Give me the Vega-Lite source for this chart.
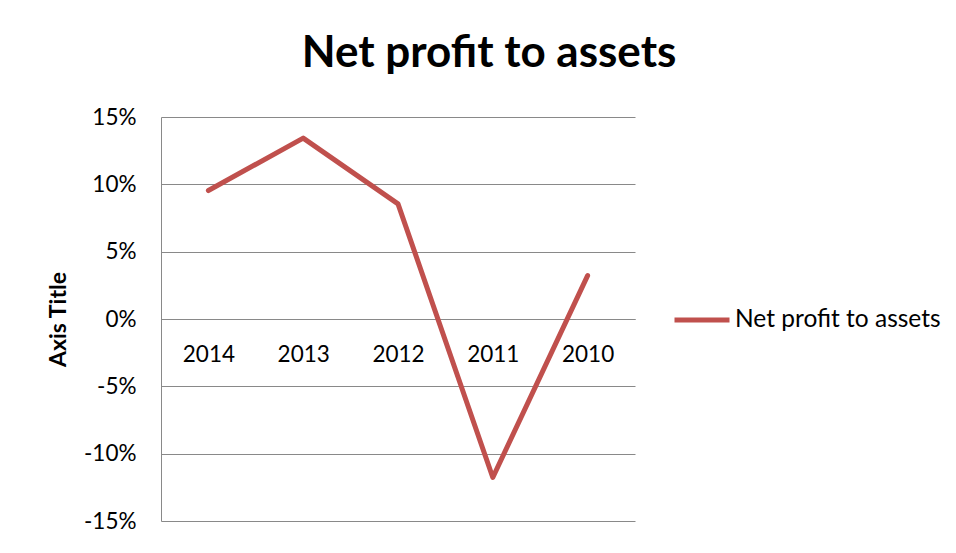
{
  "$schema": "https://vega.github.io/schema/vega-lite/v6.json",
  "autosize": {"type": "none"},
  "padding": {"left": 161, "top": 117, "right": 321, "bottom": 32},
  "width": 474,
  "height": 404,
  "background": "white",
  "title": {
    "text": "Net profit to assets",
    "font": "Lato",
    "fontSize": 44,
    "fontWeight": "bold",
    "color": "#000000",
    "anchor": "middle",
    "frame": "group",
    "dx": 91,
    "dy": 6,
    "baseline": "alphabetic",
    "offset": 1
  },
  "data": {
    "values": [
      {"year": "2014", "value": 0.0954, "series": "Net profit to assets"},
      {"year": "2013", "value": 0.1343, "series": "Net profit to assets"},
      {"year": "2012", "value": 0.0855, "series": "Net profit to assets"},
      {"year": "2011", "value": -0.1177, "series": "Net profit to assets"},
      {"year": "2010", "value": 0.0322, "series": "Net profit to assets"}
    ]
  },
  "mark": {"type": "line", "strokeWidth": 5, "strokeCap": "round", "strokeJoin": "round"},
  "encoding": {
    "x": {
      "field": "year",
      "type": "nominal",
      "sort": null,
      "scale": {"type": "point", "padding": 0.5},
      "axis": {
        "title": null,
        "orient": "bottom",
        "offset": -202,
        "labelAngle": 0,
        "ticks": false,
        "grid": false,
        "domain": true,
        "domainColor": "#898989",
        "domainWidth": 1,
        "labelFont": "Lato",
        "labelFontSize": 22.5,
        "labelColor": "#000000",
        "labelBaseline": "alphabetic",
        "labelPadding": 42
      }
    },
    "y": {
      "field": "value",
      "type": "quantitative",
      "scale": {"domain": [-0.15, 0.15], "nice": false, "zero": false},
      "axis": {
        "title": "Axis Title",
        "titleFont": "Lato",
        "titleFontSize": 23,
        "titleFontWeight": "bold",
        "titleColor": "#000000",
        "titleAngle": -90,
        "titleAlign": "center",
        "titleBaseline": "alphabetic",
        "titleX": -96,
        "titleY": 202,
        "values": [-0.15, -0.1, -0.05, 0, 0.05, 0.1, 0.15],
        "labelExpr": "round(datum.value * 100) + '%'",
        "labelFont": "Lato",
        "labelFontSize": 22.5,
        "labelColor": "#000000",
        "labelPadding": 25,
        "ticks": false,
        "domain": true,
        "domainColor": "#898989",
        "grid": true,
        "gridColor": "#898989",
        "gridWidth": 1,
        "gridOpacity": 1
      }
    },
    "color": {
      "field": "series",
      "type": "nominal",
      "scale": {"range": ["#C0504D"]},
      "legend": {
        "title": null,
        "orient": "none",
        "legendX": 511,
        "legendY": 173,
        "symbolType": "stroke",
        "symbolSize": 3025,
        "symbolStrokeWidth": 5,
        "labelFont": "Lato",
        "labelFontSize": 24.5,
        "labelColor": "#000000",
        "labelOffset": 3,
        "labelLimit": 400
      }
    }
  },
  "config": {
    "view": {"stroke": null}
  }
}
